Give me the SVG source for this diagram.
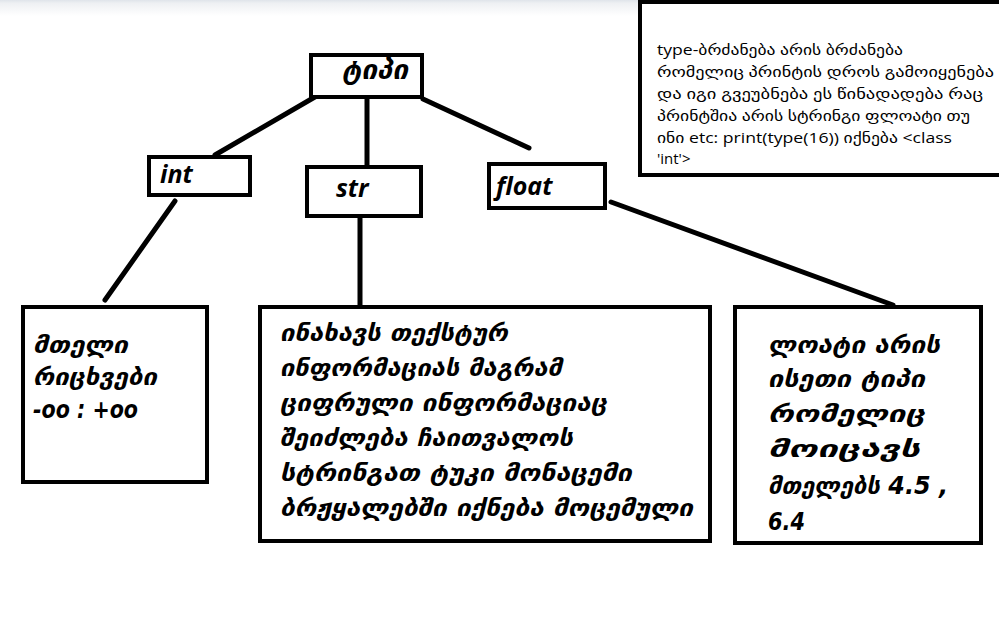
<svg xmlns="http://www.w3.org/2000/svg" width="999" height="618" viewBox="0 0 999 618">
<defs>
<linearGradient id="topband" x1="0" y1="0" x2="0" y2="1">
<stop offset="0" stop-color="#dfe4ea"/>
<stop offset="0.2" stop-color="#eef0f3"/>
<stop offset="1" stop-color="#ffffff"/>
</linearGradient>
<style>
.box{fill:#fff;stroke:#000;stroke-width:4}
.conn{stroke:#000;stroke-width:5;stroke-linecap:round;fill:none}
.lbl{font-family:"Open Sans","Liberation Sans",sans-serif;font-weight:bold;font-style:italic;font-size:25px;fill:#000}
.geo{font-family:"DejaVu Sans",sans-serif;font-weight:bold;font-style:oblique;font-size:24px;fill:#000}
.note{font-family:"Open Sans","DejaVu Sans",sans-serif;font-size:15px;fill:#000}
</style>
</defs>
<rect x="0" y="0" width="999" height="618" fill="#fff"/>
<rect x="0" y="0" width="900" height="16" fill="url(#topband)"/>
<g id="connectors">
<line class="conn" x1="320" y1="94" x2="215" y2="155"/>
<line class="conn" x1="367" y1="99" x2="367" y2="165"/>
<line class="conn" x1="423" y1="99" x2="529" y2="148"/>
<line class="conn" x1="175" y1="201" x2="105" y2="300"/>
<line class="conn" x1="360" y1="218" x2="360" y2="305"/>
<line class="conn" x1="611" y1="202" x2="893" y2="305"/>
</g>
<g id="note">
<rect class="box" x="640" y="2" width="365" height="173"/>
<text class="note" x="657" y="55" textLength="246" lengthAdjust="spacingAndGlyphs">type-ბრძანება არის ბრძანება</text>
<text class="note" x="657" y="77" textLength="337" lengthAdjust="spacingAndGlyphs">რომელიც პრინტის დროს გამოიყენება</text>
<text class="note" x="657" y="99" textLength="326" lengthAdjust="spacingAndGlyphs">და იგი გვეუბნება ეს წინადადება რაც</text>
<text class="note" x="657" y="121" textLength="313" lengthAdjust="spacingAndGlyphs">პრინტშია არის სტრინგი ფლოატი თუ</text>
<text class="note" x="657" y="143" textLength="295" lengthAdjust="spacingAndGlyphs">ინი etc: print(type(16)) იქნება &lt;class</text>
<text class="note" x="657" y="164">'int'&gt;</text>
</g>
<g id="tipi">
<rect class="box" x="311" y="55" width="111" height="42"/>
<text class="geo" x="342" y="79" style="font-size:26px" textLength="66" lengthAdjust="spacingAndGlyphs">ტიპი</text>
</g>
<g id="int">
<rect class="box" x="149" y="157" width="101" height="38"/>
<text class="lbl" x="160" y="183">int</text>
</g>
<g id="str">
<rect class="box" x="307" y="167" width="114" height="49"/>
<text class="lbl" x="336" y="197">str</text>
</g>
<g id="float">
<rect class="box" x="489" y="164" width="116" height="44"/>
<text class="lbl" x="496" y="195">float</text>
</g>
<g id="int-desc">
<rect class="box" x="23" y="307" width="184" height="175"/>
<text class="geo" x="33" y="353" textLength="95" lengthAdjust="spacingAndGlyphs">მთელი</text>
<text class="geo" x="33" y="385" textLength="124" lengthAdjust="spacingAndGlyphs">რიცხვები</text>
<text class="geo" x="33" y="418" textLength="105" lengthAdjust="spacingAndGlyphs">-oo : +oo</text>
</g>
<g id="str-desc">
<rect class="box" x="260" y="307" width="450" height="234"/>
<text class="geo" x="280" y="341" textLength="228" lengthAdjust="spacingAndGlyphs">ინახავს თექსტურ</text>
<text class="geo" x="280" y="376" textLength="282" lengthAdjust="spacingAndGlyphs">ინფორმაციას მაგრამ</text>
<text class="geo" x="280" y="411" textLength="327" lengthAdjust="spacingAndGlyphs">ციფრული ინფორმაციაც</text>
<text class="geo" x="280" y="446" textLength="293" lengthAdjust="spacingAndGlyphs">შეიძლება ჩაითვალოს</text>
<text class="geo" x="280" y="481" textLength="352" lengthAdjust="spacingAndGlyphs">სტრინგათ ტუკი მონაცემი</text>
<text class="geo" x="280" y="516" textLength="413" lengthAdjust="spacingAndGlyphs">ბრჟყალებში იქნება მოცემული</text>
</g>
<g id="float-desc">
<rect class="box" x="735" y="307" width="246" height="236"/>
<text class="geo" x="768" y="353" textLength="172" lengthAdjust="spacingAndGlyphs">ლოატი არის</text>
<text class="geo" x="768" y="387" textLength="157" lengthAdjust="spacingAndGlyphs">ისეთი ტიპი</text>
<text class="geo" x="768" y="422" textLength="157" lengthAdjust="spacingAndGlyphs">რომელიც</text>
<text class="geo" x="768" y="457" textLength="152" lengthAdjust="spacingAndGlyphs">მოიცავს</text>
<text class="geo" x="768" y="494" textLength="180" lengthAdjust="spacingAndGlyphs">მთელებს 4.5 ,</text>
<text class="geo" x="768" y="530" textLength="37" lengthAdjust="spacingAndGlyphs">6.4</text>
</g>
</svg>
